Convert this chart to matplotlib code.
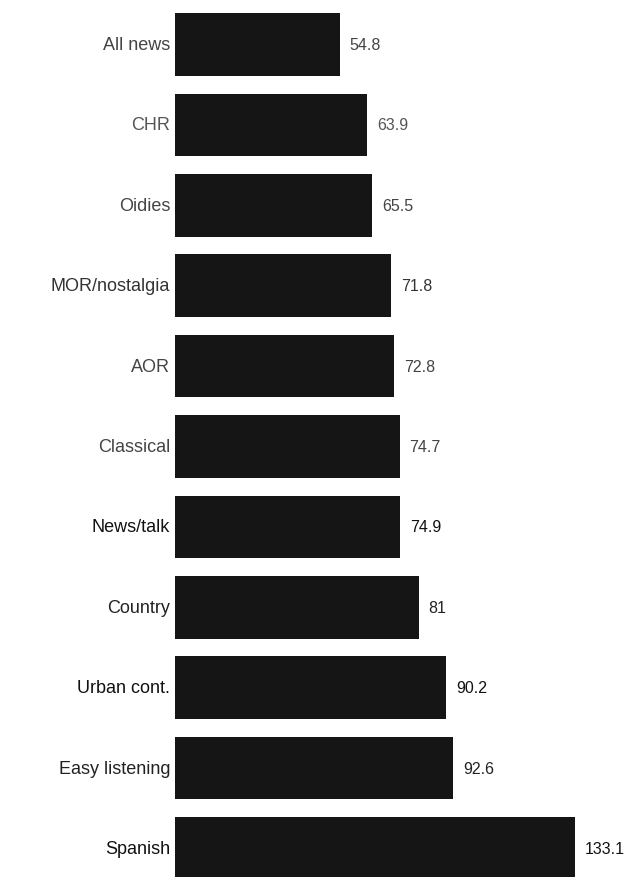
import matplotlib.pyplot as plt

categories = ["All news", "CHR", "Oidies", "MOR/nostalgia", "AOR", "Classical",
              "News/talk", "Country", "Urban cont.", "Easy listening", "Spanish"]
values = [54.8, 63.9, 65.5, 71.8, 72.8, 74.7, 74.9, 81, 90.2, 92.6, 133.1]
value_labels = ["54.8", "63.9", "65.5", "71.8", "72.8", "74.7", "74.9", "81",
                "90.2", "92.6", "133.1"]
label_colors = ["#444444", "#555555", "#444444", "#333333", "#444444", "#444444",
                "#111111", "#222222", "#111111", "#222222", "#111111"]

plt.rcParams["font.family"] = ["Liberation Sans", "DejaVu Sans"]

fig = plt.figure(figsize=(6.41, 8.78), dpi=100)
ax = fig.add_axes([175 / 641, 0, 466 / 641, 1])

y = list(range(len(categories)))
ax.barh(y, values, height=0.78, color="#151515")

for i, (v, lab) in enumerate(zip(values, value_labels)):
    ax.text(v + 3.3, i, lab, va="center", ha="left", fontsize=11.5,
            color=label_colors[i])
    ax.text(-1.6, i, categories[i], va="center", ha="right", fontsize=13,
            color=label_colors[i])

ax.set_xlim(0, 155)
ax.set_ylim(10.354, -0.566)
ax.axis("off")

fig.savefig("out.png", dpi=100)
